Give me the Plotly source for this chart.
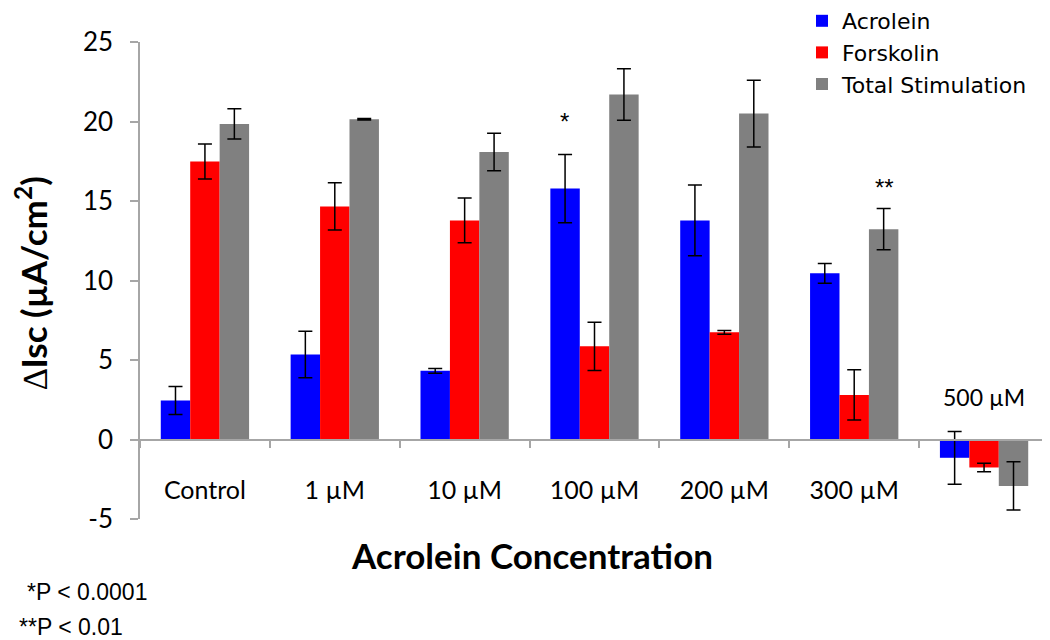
import plotly.graph_objects as go

categories = ["Control", "1 µM", "10 µM", "100 µM", "200 µM", "300 µM", "500 µM"]
acrolein = [2.45, 5.35, 4.32, 15.78, 13.78, 10.45, -1.15]
acrolein_err = [0.88, 1.46, 0.15, 2.15, 2.22, 0.62, 1.66]
forskolin = [17.48, 14.66, 13.78, 5.86, 6.74, 2.80, -1.76]
forskolin_err = [1.10, 1.48, 1.41, 1.52, 0.12, 1.58, 0.27]
total = [19.85, 20.14, 18.08, 21.70, 20.50, 13.23, -2.92]
total_err = [0.95, 0.05, 1.18, 1.62, 2.10, 1.30, 1.52]
series_names = ["Acrolein", "Forskolin", "Total Stimulation"]
y_ticks = [-5, 0, 5, 10, 15, 20, 25]
y_tick_text = ["-5", "0", "5", "10", "15", "20", "25"]
footnotes = ["*P < 0.0001", "**P < 0.01"]

colors = ["#0000FF", "#FF0000", "#808080"]
axis_gray = "#A6A6A6"

# page body has an 8px margin; plot area in screen pixels: x 140..1049, y 42..519
PL, PB, PW, PH = 140, 519, 909, 477


def px(x):
    return (x - PL) / PW


def py(y):
    return (PB - y) / PH


fig = go.Figure()
for i, (name, vals, errs) in enumerate(zip(series_names,
                                          [acrolein, forskolin, total],
                                          [acrolein_err, forskolin_err, total_err])):
    fig.add_trace(go.Bar(
        x=categories, y=vals, name=name, legendgroup=name,
        marker=dict(color=colors[i], line=dict(width=0)),
        error_y=dict(type="data", array=errs, visible=True,
                     color="#000000", thickness=1.5, width=7),
    ))

tick_text = categories[:-1] + [""]

fig.update_layout(
    width=1050, height=640,
    margin=dict(l=132, r=9, t=34, b=129, autoexpand=False),
    paper_bgcolor="white", plot_bgcolor="white",
    barmode="group", bargap=0.32, bargroupgap=0,
    font=dict(family="Lato", color="#000000"),
    showlegend=True,
    legend=dict(x=px(802), y=py(0), xanchor="left", yanchor="top",
                font=dict(family="DejaVu Sans", size=22, color="#000000"),
                tracegroupgap=0, bgcolor="rgba(0,0,0,0)"),
    xaxis=dict(type="category", anchor="free", position=1/6,
               range=[-0.5, 6.5], automargin=False,
               showline=True, linecolor=axis_gray, linewidth=1.5,
               ticks="outside", tickson="boundaries", ticklen=8,
               tickcolor=axis_gray, tickwidth=1.5,
               tickvals=categories, ticktext=tick_text,
               ticklabelstandoff=29,
               tickfont=dict(family="Lato", size=25, color="#000000"),
               showgrid=False, zeroline=False),
    yaxis=dict(range=[-5, 25], tickvals=y_ticks, ticktext=y_tick_text,
               automargin=False,
               showline=True, linecolor=axis_gray, linewidth=1.5,
               ticks="outside", ticklen=8, tickcolor=axis_gray, tickwidth=1.5,
               ticklabelstandoff=12,
               tickfont=dict(family="Lato", size=26, color="#000000"),
               showgrid=False, zeroline=False),
)

annotations = [
    dict(text=categories[-1], x=categories[-1], y=2.7, xref="x", yref="y",
         showarrow=False, font=dict(family="Lato", size=23, color="#000000")),
    dict(text="*", x=categories[3], y=20.0, xref="x", yref="y", xshift=-30,
         showarrow=False, font=dict(family="Liberation Sans", size=24, color="#000000")),
    dict(text="**", x=categories[5], y=15.85, xref="x", yref="y", xshift=30,
         showarrow=False, font=dict(family="Liberation Sans", size=24, color="#000000")),
    dict(text="<b>Acrolein Concentration</b>", x=px(532), y=py(555),
         xanchor="center", yanchor="middle",
         xref="paper", yref="paper", showarrow=False,
         font=dict(family="Lato", size=35, color="#000000")),
    dict(text="<span style='font-weight:normal'>∆</span><b>Isc (µA/cm<sup>2</sup>)</b>",
         x=px(31), y=py(283), textangle=-90, xanchor="center", yanchor="middle",
         xref="paper", yref="paper", showarrow=False,
         font=dict(family="Lato", size=35, color="#000000")),
    dict(text=footnotes[0], x=px(25), y=py(592), xanchor="left", yanchor="middle",
         xref="paper", yref="paper", showarrow=False,
         font=dict(family="Liberation Sans", size=23, color="#000000")),
    dict(text=footnotes[1], x=px(17), y=py(627), xanchor="left", yanchor="middle",
         xref="paper", yref="paper", showarrow=False,
         font=dict(family="Liberation Sans", size=23, color="#000000")),
]
fig.update_layout(annotations=annotations)

fig.write_html("out.html")
